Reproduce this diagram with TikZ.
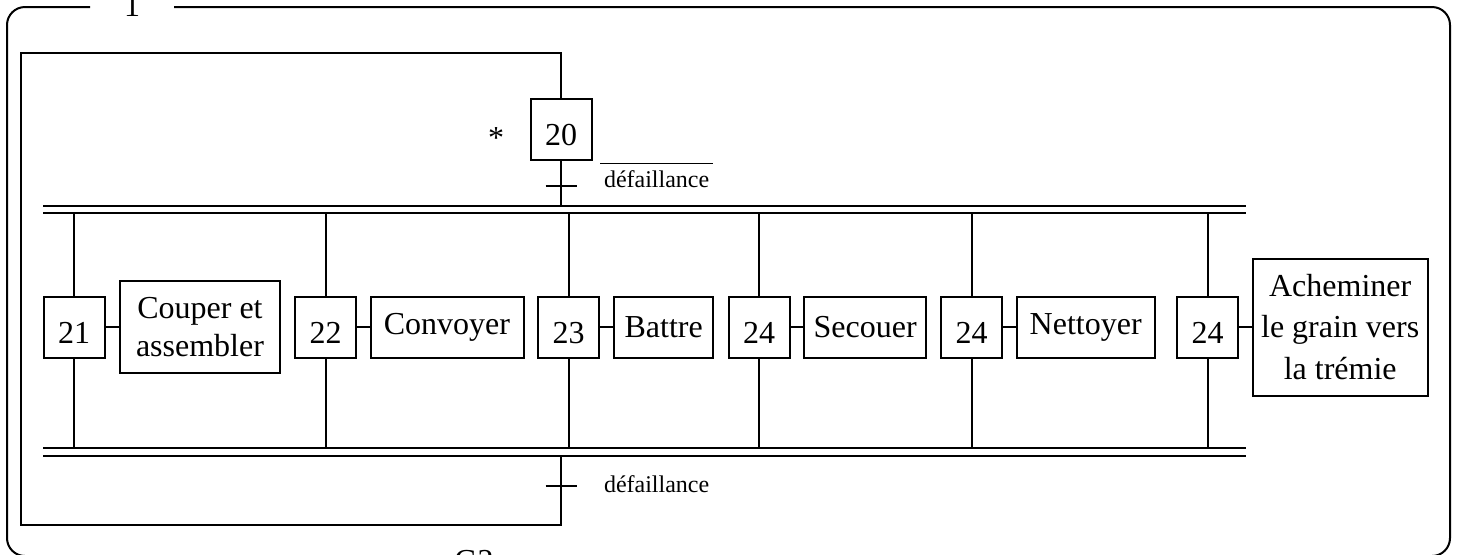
\documentclass[tikz,border=0pt]{standalone}
\usepackage{fontspec}
\setmainfont{Liberation Serif}

\tikzset{
	etape/.style={draw, minimum size=30.5pt, inner sep=0pt, text height=16pt, text depth=0pt},
	action/.style={draw, minimum height=30.5pt, inner sep=0pt, align=center},
	petit/.style={font=\fontsize{12}{14}\selectfont, inner sep=0pt},
}

\begin{document}
\begin{tikzpicture}[x=0.5pt, y=-0.5pt, line width=1pt, font=\fontsize{16}{19}\selectfont]

		\useasboundingbox (0,0) rectangle (1461,554);
		\clip (0,0) rectangle (1461,554);

		% cadre
		\draw [rounded corners=9pt] (174,7) -- (1450,7) -- (1450,556) -- (540,556);
		\draw [rounded corners=9pt] (410,556) -- (7,556) -- (7,7) -- (90,7);
		\node (num) at (132,16) [anchor=base] {1};
		\node (nom) at (474,571) [anchor=base] {G2};

		\coordinate (hautext) at (0,206);
		\coordinate (hautint) at (0,213);
		\coordinate (basint) at (0,448);
		\coordinate (basext) at (0,456);
		\coordinate (t1) at (561,186);
		\coordinate (t2) at (561,486);
		\coordinate (bcl) at (21,53);
		\coordinate (bcb) at (21,525);

		% etape initiale
		\node (e20) at (561,129.5) [etape] {20};
		\node (init) at (496,148) [anchor=base] {*};
		\draw (e20.south) -- (e20.south |- hautext);
		\draw ([xshift=-7.75pt]t1) -- ([xshift=7.75pt]t1);
		\node (r1) at (599,187) [petit, anchor=base west] {$\overline{\mbox{\rule{0pt}{10.5pt}\,défaillance\,}}$};

		\draw (43,206) -- (1246,206);
		\draw (43,213) -- (1246,213);
		\draw (43,448) -- (1246,448);
		\draw (43,456) -- (1246,456);

		% etapes paralleles
		\node (e21) at (74,327) [etape] {21};
		\node (a21) at (200,327) [action, minimum width=80pt, minimum height=46pt] {Couper et\\assembler};
		\node (e22) at (325.5,327) [etape] {22};
		\node (a22) at (447,327) [action, minimum width=76.5pt] {Convoyer};
		\node (e23) at (568.5,327) [etape] {23};
		\node (a23) at (663.7,327) [action, minimum width=49.5pt] {Battre};
		\node (e24) at (759,327) [etape] {24};
		\node (a24) at (865.2,327) [action, minimum width=61pt] {Secouer};
		\node (e25) at (971.5,327) [etape] {24};
		\node (a25) at (1085.7,327) [action, minimum width=69pt] {Nettoyer};
		\node (e26) at (1207.5,327) [etape] {24};
		\node (a26) at (1340.2,327) [action, minimum width=87.5pt, minimum height=68.5pt] {Acheminer\\[1.8pt]le grain vers\\[1.8pt]la trémie};

		\draw (e21.north) -- (e21.north |- hautint);
		\draw (e21.south) -- (e21.south |- basint);
		\draw (e21) -- (a21);
		\draw (e22.north) -- (e22.north |- hautint);
		\draw (e22.south) -- (e22.south |- basint);
		\draw (e22) -- (a22);
		\draw (e23.north) -- (e23.north |- hautint);
		\draw (e23.south) -- (e23.south |- basint);
		\draw (e23) -- (a23);
		\draw (e24.north) -- (e24.north |- hautint);
		\draw (e24.south) -- (e24.south |- basint);
		\draw (e24) -- (a24);
		\draw (e25.north) -- (e25.north |- hautint);
		\draw (e25.south) -- (e25.south |- basint);
		\draw (e25) -- (a25);
		\draw (e26.north) -- (e26.north |- hautint);
		\draw (e26.south) -- (e26.south |- basint);
		\draw (e26) -- (a26);

		% retour
		\draw (e20.north) |- (bcl) -- (bcb) -| (e20 |- basext);
		\draw ([xshift=-7.75pt]t2) -- ([xshift=7.75pt]t2);
		\node (r2) at (603,492) [petit, anchor=base west] {défaillance};

\end{tikzpicture}
\end{document}
